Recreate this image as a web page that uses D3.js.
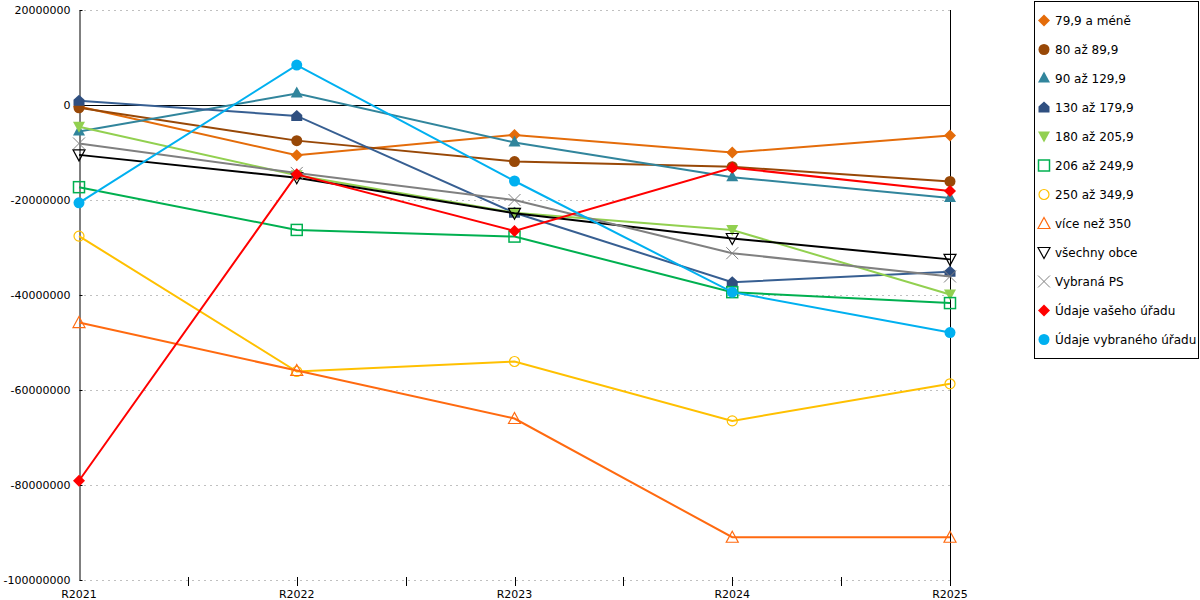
<!DOCTYPE html>
<html>
<head>
<meta charset="utf-8">
<script src="https://cdn.jsdelivr.net/npm/d3@7"></script>
<style>
  body { margin: 0; background: #fff; }
  svg { display: block; font-family: "DejaVu Sans", Verdana, sans-serif; }
</style>
</head>
<body>
<script>
const years = ['R2021', 'R2022', 'R2023', 'R2024', 'R2025']
const yTicks = [20000000, 0, -20000000, -40000000, -60000000, -80000000, -100000000]

const seriesNames = [
	'79,9 a méně', '80 až 89,9', '90 až 129,9', '130 až 179,9', '180 až 205,9',
	'206 až 249,9', '250 až 349,9', 'více než 350', 'všechny obce', 'Vybraná PS',
	'Údaje vašeho úřadu', 'Údaje vybraného úřadu'
]

// values in millions
const s79 = [-0.3, -10.6, -6.3, -10.0, -6.4]
const s80 = [-0.6, -7.5, -11.9, -13.0, -16.1]
const s90 = [-5.6, 2.4, -7.9, -15.2, -19.6]
const s130 = [0.9, -2.3, -22.7, -37.3, -35.1]
const s180 = [-4.6, -14.8, -22.7, -26.3, -39.9]
const s206 = [-17.3, -26.3, -27.7, -39.4, -41.7]
const s250 = [-27.6, -56.1, -54.0, -66.5, -58.7]
const s350 = [-45.8, -55.9, -66.0, -91.0, -91.0]
const sAll = [-10.5, -15.3, -22.8, -28.1, -32.5]
const sPS = [-8.1, -14.3, -20.0, -31.2, -36.1]
const sYour = [-79.1, -14.6, -26.5, -13.2, -18.1]
const sSel = [-20.6, 8.4, -16.0, -39.4, -47.9]

const seriesValues = [s79, s80, s90, s130, s180, s206, s250, s350, sAll, sPS, sYour, sSel]
const colors = ['#e46c0a', '#984807', '#31859c', '#375f92', '#92d050', '#00b050',
	'#ffc000', '#ff6a10', '#000000', '#808080', '#ff0000', '#00b0f0']
const markerColors = ['#e46c0a', '#984807', '#31859c', '#2f4f80', '#92d050', '#00b050',
	'#ffc000', '#ff6a10', '#000000', '#808080', '#ff0000', '#00b0f0']
const shapes = ['diamond', 'circle', 'triangle', 'house', 'down', 'square',
	'ocircle', 'otriangle', 'odown', 'cross', 'diamond', 'circle']

const width = 1200
const height = 600
const plot = { left: 79, right: 950, top: 10, bottom: 580 }

const x = d3.scalePoint().domain(years).range([plot.left, plot.right])
const y = d3.scaleLinear().domain([-100000000, 20000000]).range([plot.bottom, plot.top])

const svg = d3.select('body').append('svg')
		.attr('width', width)
		.attr('height', height)

// gridlines
svg.append('g')
	.selectAll('line')
	.data(yTicks.filter(d => d !== 0))
	.enter().append('line')
		.attr('x1', plot.left + 5).attr('x2', plot.right)
		.attr('y1', d => y(d) + 0.5).attr('y2', d => y(d) + 0.5)
		.attr('stroke', '#c0c0c0')
		.attr('stroke-dasharray', '2,4')

// zero line + right border
svg.append('line')
	.attr('x1', plot.left).attr('x2', plot.right)
	.attr('y1', y(0) + 0.5).attr('y2', y(0) + 0.5)
	.attr('stroke', '#000')
svg.append('line')
	.attr('x1', plot.right + 0.5).attr('x2', plot.right + 0.5)
	.attr('y1', plot.top).attr('y2', plot.bottom)
	.attr('stroke', '#000')

// y axis
const yAxis = svg.append('g')
		.attr('transform', `translate(${plot.left + 0.5},0)`)
		.call(d3.axisLeft(y).tickValues(yTicks).tickFormat(d => String(d)).tickSize(5).tickSizeOuter(0))
yAxis.select('.domain').attr('stroke', '#000')
yAxis.selectAll('.tick line').attr('x2', 3).attr('stroke', '#000')
yAxis.selectAll('text').attr('font-size', 11).attr('fill', '#000').attr('font-family', 'DejaVu Sans').attr('x', -9)

// x axis ticks (categories and midpoints)
const step = x.step()
const xTickPos = []
years.forEach((d, i) => {
	xTickPos.push(x(d))
	if (i < years.length - 1) xTickPos.push(x(d) + step / 2)
})
svg.append('g')
	.selectAll('line')
	.data(xTickPos.slice(1))
	.enter().append('line')
		.attr('x1', d => Math.round(d) + 0.5).attr('x2', d => Math.round(d) + 0.5)
		.attr('y1', plot.bottom - 3).attr('y2', plot.bottom + 6)
		.attr('stroke', '#000')
svg.append('g')
	.selectAll('text')
	.data(years)
	.enter().append('text')
		.attr('x', d => x(d))
		.attr('y', 598)
		.attr('text-anchor', 'middle')
		.attr('font-size', 11)
		.text(d => d)

function drawMarker(g, shape, color, cx, cy) {
	const path = d => g.append('path').attr('transform', `translate(${cx},${cy})`).attr('d', d)
	if (shape === 'diamond') {
		path('M0,-6L6,0L0,6L-6,0Z').attr('fill', color)
	} else if (shape === 'circle') {
		g.append('circle').attr('cx', cx).attr('cy', cy).attr('r', 5.5).attr('fill', color)
	} else if (shape === 'triangle') {
		path('M0,-7L6,4L-6,4Z').attr('fill', color)
	} else if (shape === 'house') {
		path('M0,-6L5.5,-1L5.5,5L-5.5,5L-5.5,-1Z').attr('fill', color)
	} else if (shape === 'down') {
		path('M-6,-5L6,-5L0,6Z').attr('fill', color)
	} else if (shape === 'square') {
		g.append('rect').attr('x', cx - 5.5).attr('y', cy - 5.5).attr('width', 11).attr('height', 11)
			.attr('fill', 'none').attr('stroke', color).attr('stroke-width', 1.5)
	} else if (shape === 'ocircle') {
		g.append('circle').attr('cx', cx).attr('cy', cy).attr('r', 5)
			.attr('fill', 'none').attr('stroke', color).attr('stroke-width', 1.2)
	} else if (shape === 'otriangle') {
		path('M0,-6L6,5L-6,5Z').attr('fill', 'none').attr('stroke', color).attr('stroke-width', 1.2)
	} else if (shape === 'odown') {
		path('M-6,-5L6,-5L0,6Z').attr('fill', 'none').attr('stroke', color).attr('stroke-width', 1.2)
	} else if (shape === 'cross') {
		path('M-6,-6L6,6M6,-6L-6,6').attr('fill', 'none').attr('stroke', color).attr('stroke-width', 1)
	}
}

const line = d3.line()
	.x((d, i) => x(years[i]))
	.y(d => y(d * 1e6))

seriesValues.forEach((vals, si) => {
	const g = svg.append('g')
	g.append('path')
		.datum(vals)
		.attr('fill', 'none')
		.attr('stroke', colors[si])
		.attr('stroke-width', 2)
		.attr('d', line)
	vals.forEach((v, i) => drawMarker(g, shapes[si], markerColors[si], x(years[i]), y(v * 1e6)))
})

// legend
const legend = svg.append('g')
legend.append('rect')
	.attr('x', 1034.5).attr('y', 1.5)
	.attr('width', 164).attr('height', 357)
	.attr('fill', '#fff').attr('stroke', '#000')
seriesNames.forEach((name, i) => {
	const cy = 20.5 + i * 29
	drawMarker(legend, shapes[i], markerColors[i], 1044, cy)
	legend.append('text')
		.attr('x', 1055).attr('y', cy)
		.attr('dy', '0.35em')
		.attr('font-size', 12)
		.text(name)
})
</script>
</body>
</html>
